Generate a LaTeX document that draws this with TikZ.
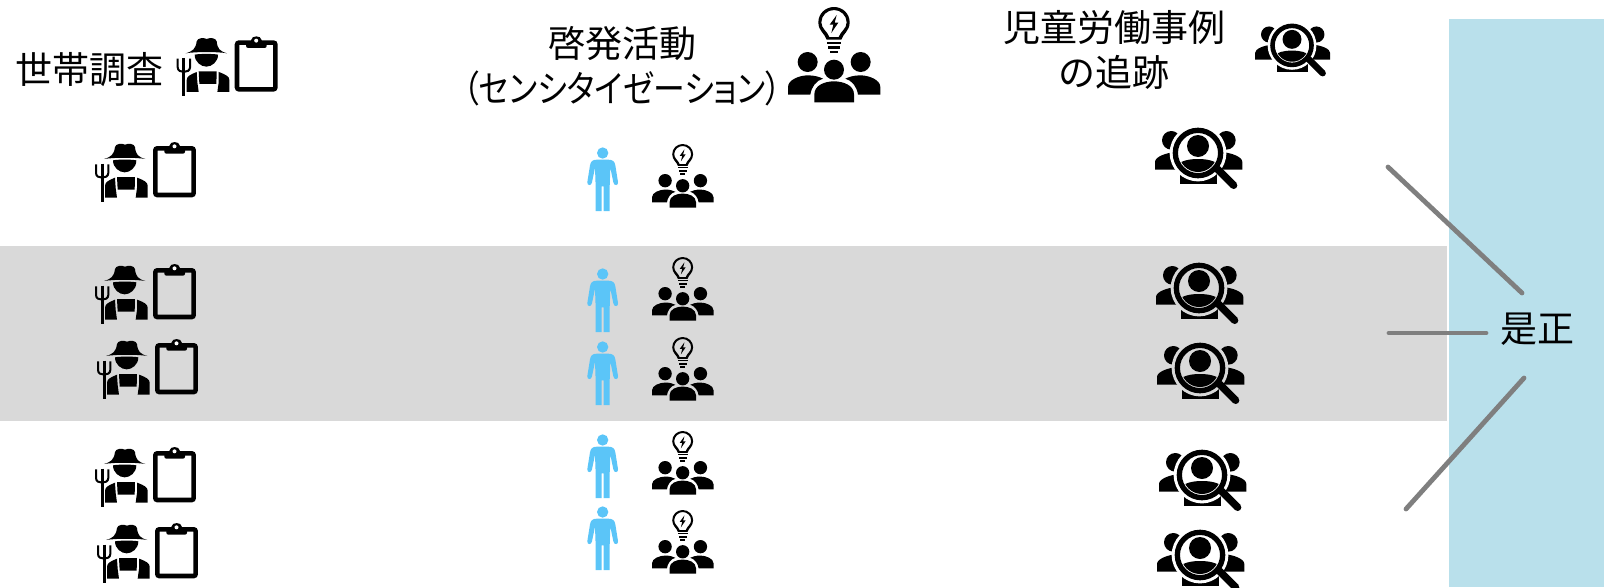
\documentclass[tikz,border=0pt]{standalone}
\usepackage{fontspec}
\setmainfont{Noto Sans CJK JP}
\newfontfamily\kanafont[RawFeature=+palt]{Noto Sans CJK JP}
\usepackage{graphicx}
\usepackage{tikz}

\definecolor{bandgray}{HTML}{D9D9D9}
\definecolor{panelblue}{HTML}{B9E0EB}
\definecolor{personblue}{HTML}{5BC5F8}
\definecolor{fixgray}{HTML}{7F7F7F}

\tikzset{
  headtext/.style={font=\fontsize{37}{45}\selectfont,align=center},
  fixline/.style={draw=fixgray,line width=4.8pt,line cap=round},
  halo/.store in=\halocol, halo=white,
  % farmer with clipboard, drawn at 3x and scaled down
  farmclip/.pic={
    \begin{scope}[scale=1/3]
    % hat
    \fill (27,48) .. controls (48,42) and (57,35) .. (60,12) .. controls (62,2) and (80,0) .. (90,5)
      .. controls (100,0) and (118,2) .. (120,12) .. controls (122,35) and (130,42) .. (151,48)
      .. controls (125,43) and (55,43) .. (27,48) -- cycle;
    % face
    \fill (54,52) .. controls (70,49) and (108,49) .. (124,52) .. controls (124,74) and (105,88) .. (89,88)
      .. controls (73,88) and (54,74) .. (54,52) -- cycle;
    % fork
    \draw[line width=3pt] (21,62) -- (21,177);
    \draw[line width=2pt] (3,64) -- (3,90) .. controls (3,100) and (12,104) .. (21,104) .. controls (30,104) and (40,100) .. (40,90) -- (40,64);
    % overalls
    \fill (30,164) -- (30,128) .. controls (30,118) and (40,112) .. (60,104) -- (62,135) -- (66,164) -- cycle;
    \fill (158,164) -- (158,128) .. controls (158,118) and (148,112) .. (126,104) -- (126,135) -- (122,164) -- cycle;
    \fill (66,102) -- (120,102) -- (119,140) -- (68,140) -- cycle;
    % clipboard
    \draw[line width=4.6pt,rounded corners=2pt] (181,16) rectangle (296,156);
    \fill[rounded corners=2pt] (208,32) -- (208,13) -- (224,13) .. controls (224,-6) and (254,-6) .. (254,13) -- (270,13) -- (270,32) -- cycle;
    \fill[white] (238.5,10) circle[radius=6];
    \end{scope}
  },
  % blue standing person
  personfig/.pic={
    \begin{scope}[scale=1/3]
    \fill[personblue] (47,18) circle[radius=17];
    \fill[personblue] (30,38) -- (64,38) .. controls (78,38) and (83,44) .. (85,55) -- (93,105)
      .. controls (95,116) and (81,118) .. (79,106) -- (70,62) -- (68,120) -- (68,192) -- (50,192)
      -- (50,118) -- (44,118) -- (44,192) -- (26,192) -- (26,120) -- (24,62) -- (15,106)
      .. controls (13,118) and (-1,116) .. (1,105) -- (9,55) .. controls (11,44) and (16,38) .. (30,38) -- cycle;
    \end{scope}
  },
  % three people under a light bulb
  bulbgroup/.pic={
    \fill[even odd rule] (116,98) .. controls (111,80) and (91,72) .. (91,46) .. controls (91,20) and (112,0) .. (138,0)
      .. controls (164,0) and (185,20) .. (185,46) .. controls (185,72) and (165,80) .. (160,98) -- cycle
      (124,90) .. controls (118,72) and (100,66) .. (100,46) .. controls (100,25) and (118,9) .. (138,9)
      .. controls (158,9) and (176,25) .. (176,46) .. controls (176,66) and (158,72) .. (152,90) -- cycle;
    \fill (146,24) -- (125,53) -- (136,53) -- (130,78) -- (151,47) -- (140,47) -- cycle;
    \fill (116,104) rectangle (160,110);
    \fill (120,118) rectangle (156,125);
    \fill (127,131) rectangle (149,138);
    \fill (59,165) circle[radius=30];
    \fill (218,165) circle[radius=30];
    \fill (138,188) circle[radius=30];
    \fill (79,286) -- (79,262) .. controls (79,235) and (110,223) .. (138,223) .. controls (166,223) and (198,235) .. (198,262) -- (198,286) -- cycle;
    \fill (0,263) -- (0,240) .. controls (0,218) and (35,205) .. (60,205) .. controls (80,205) and (95,210) .. (105,215)
      .. controls (85,220) and (70,240) .. (67,263) -- cycle;
    \fill (277,263) -- (277,240) .. controls (277,218) and (242,205) .. (217,205) .. controls (197,205) and (182,210) .. (172,215)
      .. controls (192,220) and (207,240) .. (210,263) -- cycle;
  },
  % three people under a magnifier
  searchgroup/.pic={
    \fill (49,40) circle[radius=28];
    \fill (214,40) circle[radius=28];
    \fill (0,128) -- (0,105) .. controls (0,90) and (30,78) .. (62,75) -- (70,128) -- cycle;
    \fill (262,128) -- (262,105) .. controls (262,90) and (232,78) .. (200,75) -- (192,128) -- cycle;
    \fill (75,170) -- (75,130) -- (186,130) -- (186,170) -- cycle;
    \fill[\halocol] (129,78) circle[radius=85];
    \fill[\halocol] (172,125) -- (186,111) -- (250,175) -- (236,189) -- cycle;
    \fill[even odd rule] (129,78) circle[radius=76] (129,78) circle[radius=60];
    \fill (129,57) circle[radius=33];
    \begin{scope}
    \clip (129,78) circle[radius=57];
    \fill (60,140) -- (60,120) .. controls (75,100) and (105,96) .. (129,96) .. controls (153,96) and (183,100) .. (198,120) -- (198,140) -- cycle;
    \end{scope}
    \fill (178,133) -- (194,117) -- (244,167) -- (228,183) -- cycle;
    \fill (236,175) circle[radius=11];
  },
}

\begin{document}
\begin{tikzpicture}[x=1pt,y=-1pt]

\useasboundingbox (0,0) rectangle (1604,587);

% ========================
% BACKGROUND BANDS
% ========================

\fill[bandgray] (0,246) rectangle (1447,421);
\fill[panelblue] (1449,19) rectangle (1604,587);

% ========================
% HEADERS
% ========================

\node[headtext] (survey) at (89.5,70) {世帯調査};
\node[headtext] (aware) at (622.5,66) {啓発活動\\\scalebox{0.86}[1]{\kanafont （センシタイゼーション）}};
\node[headtext] (tracking) at (1114,49.5) {児童労働事例\\の追跡};

\pic (surveyicon) at (176.7,37.3) {farmclip};
\pic[scale=1/3] (awareicon) at (788,7) {bulbgroup};
\pic[scale=0.287] (trackicon) at (1255,23) {searchgroup};

% ========================
% ROWS
% ========================

% household survey
\pic (farmA) at (95,143) {farmclip};
\pic (farmB) at (95,265) {farmclip};
\pic (farmC) at (97,340) {farmclip};
\pic (farmD) at (95,448) {farmclip};
\pic (farmE) at (97,524) {farmclip};

% person and sensitization
\pic (personA) at (587,147) {personfig};
\pic (personB) at (587,268) {personfig};
\pic (personC) at (587,341) {personfig};
\pic (personD) at (587,434) {personfig};
\pic (personE) at (587,506) {personfig};

\pic[scale=2/9] (bulbA) at (652,144) {bulbgroup};
\pic[scale=2/9] (bulbB) at (652,257) {bulbgroup};
\pic[scale=2/9] (bulbC) at (652,337) {bulbgroup};
\pic[scale=2/9] (bulbD) at (652,431) {bulbgroup};
\pic[scale=2/9] (bulbE) at (652,510) {bulbgroup};

% case tracking
\pic[scale=1/3] (trackA) at (1155,127) {searchgroup};
\pic[scale=1/3,halo=bandgray] (trackB) at (1156,262) {searchgroup};
\pic[scale=1/3,halo=bandgray] (trackC) at (1157,342) {searchgroup};
\pic[scale=1/3] (trackD) at (1159,449) {searchgroup};
\pic[scale=1/3] (trackE) at (1157,529) {searchgroup};

% ========================
% REMEDIATION
% ========================

\node[headtext] (fix) at (1537,329) {是正};

\coordinate (fixtopA) at (1388,167);
\coordinate (fixtopB) at (1522,293);
\coordinate (fixmidA) at (1389,333);
\coordinate (fixmidB) at (1486,333);
\coordinate (fixlowA) at (1406,509);
\coordinate (fixlowB) at (1524,378);

\draw[fixline] (fixtopA) -- (fixtopB);
\draw[fixline] (fixmidA) -- (fixmidB);
\draw[fixline] (fixlowA) -- (fixlowB);

\end{tikzpicture}
\end{document}
